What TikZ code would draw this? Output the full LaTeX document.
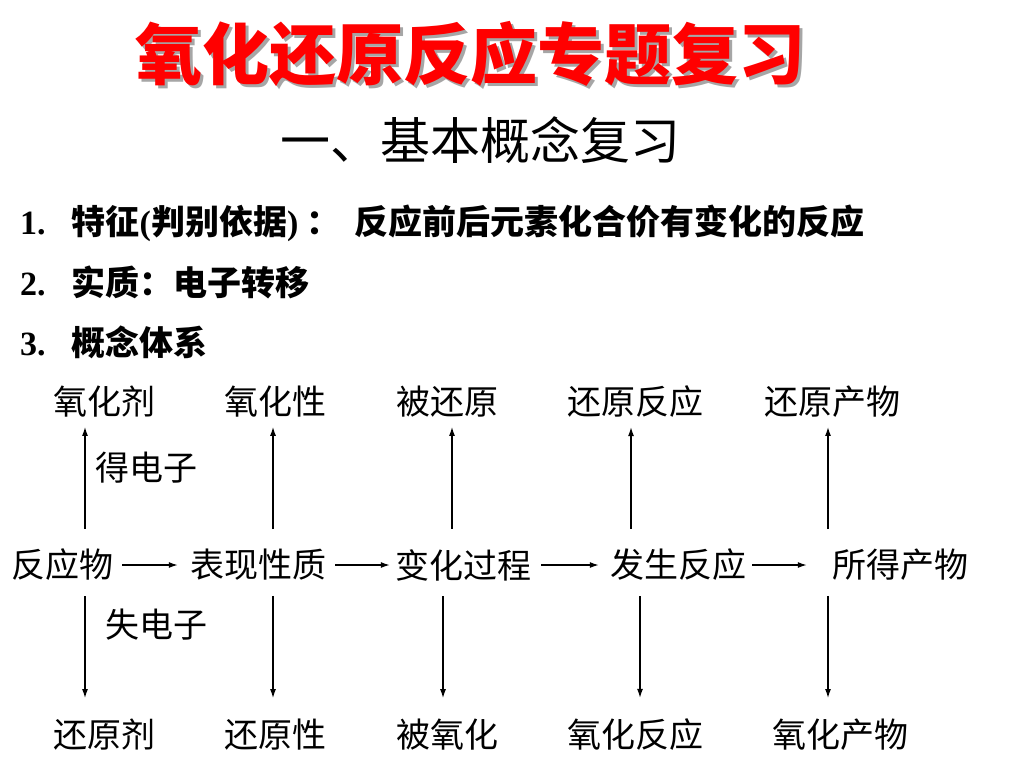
\documentclass[tikz,border=0pt]{standalone}
\usepackage{fontspec}
\setmainfont{Liberation Serif}
\newfontfamily\cjk{Noto Sans CJK SC}
\usetikzlibrary{arrows.meta}
\tikzset{
  lbl/.style={font=\cjk\fontsize{34}{40}\selectfont, inner sep=0pt},
  item/.style={font=\bfseries\cjk\fontsize{34}{40}\selectfont, inner sep=0pt, anchor=base west},
  arr/.style={line width=1.3pt, -{Latex[length=9pt,width=6pt]}},
  ttl/.style={font=\cjk\bfseries\fontsize{67}{72}\selectfont, inner sep=0pt},
}
\newcommand{\tnr}[1]{{\rmfamily\bfseries #1}}
\newcommand{\ttltext}{氧化还原反应专题复习}
\begin{document}
\begin{tikzpicture}[x=1pt,y=-1pt]
\useasboundingbox[fill=white] (0,0) rectangle (1024,768);
% title with grey shadow
\node[ttl] (title) at (470,56) {\makebox[0pt][l]{\hspace{3pt}\raisebox{-3pt}{\textcolor{black!35}{\ttltext}}}\textcolor{red}{\ttltext}};
\node[font=\cjk\fontsize{50}{56}\selectfont, inner sep=0pt] (sub) at (480,140) {一、基本概念复习};
% items
\node[item] (i1) at (20,234) {\tnr{1.}\hspace{26pt}特征\tnr{(}判别依据\tnr{)} ：};
\node[item] (i1b) at (354,234) {反应前后元素化合价有变化的反应};
\node[item] (i2) at (20,295) {\tnr{2.}\hspace{26pt}实质：电子转移};
\node[item] (i3) at (20,355) {\tnr{3.}\hspace{26pt}概念体系};
% top row
\node[lbl] (t1) at (104,402) {氧化剂};
\node[lbl] (t2) at (275,402) {氧化性};
\node[lbl] (t3) at (447,402) {被还原};
\node[lbl] (t4) at (635,402) {还原反应};
\node[lbl] (t5) at (832,402) {还原产物};
% middle row
\node[lbl] (m1) at (62,565) {反应物};
\node[lbl] (m2) at (258,565) {表现性质};
\node[lbl] (m3) at (463,565) {变化过程};
\node[lbl] (m4) at (678,565) {发生反应};
\node[lbl] (m5) at (900,565) {所得产物};
% bottom row
\node[lbl] (b1) at (104,735) {还原剂};
\node[lbl] (b2) at (275,735) {还原性};
\node[lbl] (b3) at (447,735) {被氧化};
\node[lbl] (b4) at (635,735) {氧化反应};
\node[lbl] (b5) at (840,735) {氧化产物};
% labels
\node[lbl] (gain) at (146,468) {得电子};
\node[lbl] (lose) at (156,625) {失电子};
% columns
\coordinate (u1) at (85,0);
\coordinate (u2) at (273,0);
\coordinate (u3) at (452,0);
\coordinate (u4) at (631,0);
\coordinate (u5) at (828,0);
\coordinate (d1) at (85,0);
\coordinate (d2) at (273,0);
\coordinate (d3) at (443,0);
\coordinate (d4) at (640,0);
\coordinate (d5) at (828,0);
% horizontal arrows
\draw[arr, shorten <=9pt, shorten >=12pt] (m1.east) -- (m2.west);
\draw[arr, shorten <=9pt, shorten >=5pt] (m2.east) -- (m3.west);
\draw[arr, shorten <=10pt, shorten >=11pt] (m3.east) -- (m4.west);
\draw[arr, shorten <=6pt, shorten >=25pt] (m4.east) -- (m5.west);
% vertical arrows
\foreach \i in {1,...,5}{
  \draw[arr, shorten <=20pt, shorten >=9pt] (m\i.north -| u\i) -- (t\i.south -| u\i);
  \draw[arr, shorten <=15pt, shorten >=21pt] (m\i.south -| d\i) -- (b\i.north -| d\i);
}
\end{tikzpicture}
\end{document}
